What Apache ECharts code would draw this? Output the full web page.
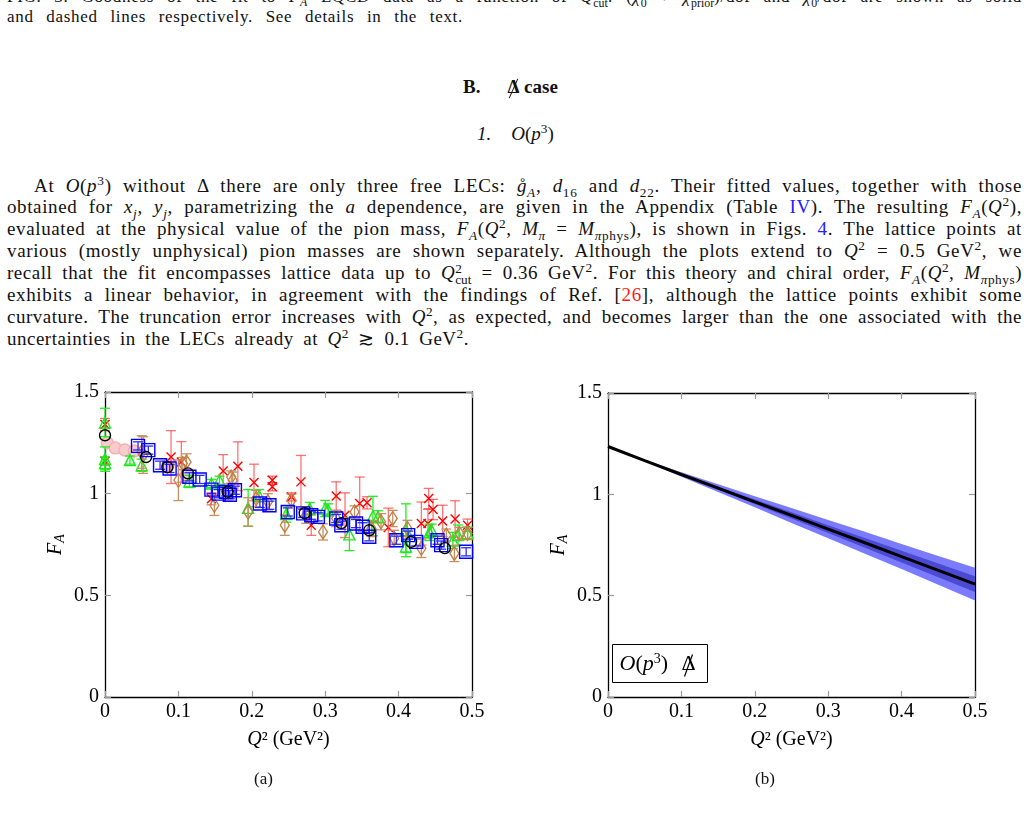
<!DOCTYPE html>
<html>
<head>
<meta charset="utf-8">
<script src="https://cdn.jsdelivr.net/npm/echarts/dist/echarts.min.js"></script>
<style>
  html, body { margin: 0; padding: 0; background: #fff; }
  #page { position: relative; width: 1029px; height: 817px; overflow: hidden; font-family: "Liberation Serif", "DejaVu Serif", serif; color: #111; font-variant-ligatures: none; }
  .ln { position: absolute; white-space: nowrap; font-size: 19px; line-height: 22px; height: 22px; }
  .cap { font-size: 17px; }
  sup, sub { font-size: 0.7em; line-height: 0; }
  .b { color: #2020ff; }
  .r { color: #ff1a1a; }
  .ss { display: inline-block; font-size: 0.7em; line-height: 11px; vertical-align: -5px; letter-spacing: 0; }
  .ss > span { display: block; }
  .nd { position: relative; display: inline-block; }
  .nd::after { content: ''; position: absolute; left: 48%; top: 8%; height: 95%; border-left: 1.3px solid #111; transform: rotate(24deg); }
  #chart { position: absolute; left: 0; top: 370px; width: 1029px; height: 447px; }
</style>
</head>
<body>
<div id="page">
  <!-- caption of the previous figure, cut at the top of the page -->
  <div class="ln cap" data-w="1015" style="left:7px;top:-14px">FIG. 3. Goodness of the fit to <i>F<sub>A</sub></i> LQCD data as a function of <i>Q</i><span class="ss"><span>2</span><span>cut</span></span>: (<i>χ</i><span class="ss"><span>2</span><span>0</span></span> + <i>χ</i><span class="ss"><span>2</span><span>prior</span></span>)/dof and <i>χ</i><span class="ss"><span>2</span><span>0</span></span>/dof are shown as solid</div>
  <div class="ln cap" data-w="456" style="left:7px;top:6px">and dashed lines respectively. See details in the text.</div>

  <div class="ln" style="left:463px;top:76px;font-weight:bold">B.<span style="display:inline-block;width:27px"></span><span class="nd">Δ</span> case</div>
  <div class="ln" style="left:477px;top:123px"><i>1.</i><span style="display:inline-block;width:20px"></span><i>O</i>(<i>p</i><sup>3</sup>)</div>

  <div class="ln" data-w="988" style="left:34px;top:175px">At <i>O</i>(<i>p</i><sup>3</sup>) without Δ there are only three free LECs: <i>g̊</i><sub><i>A</i></sub>, <i>d</i><sub>16</sub> and <i>d</i><sub>22</sub>. Their fitted values, together with those</div>
  <div class="ln" data-w="1015" style="left:7px;top:196px">obtained for <i>x<sub>j</sub></i>, <i>y<sub>j</sub></i>, parametrizing the <i>a</i> dependence, are given in the Appendix (Table <span class="b">IV</span>). The resulting <i>F<sub>A</sub></i>(<i>Q</i><sup>2</sup>),</div>
  <div class="ln" data-w="1015" style="left:7px;top:218px">evaluated at the physical value of the pion mass, <i>F<sub>A</sub></i>(<i>Q</i><sup>2</sup>, <i>M<sub>π</sub></i> = <i>M</i><sub><i>π</i>phys</sub>), is shown in Figs. <span class="b">4</span>. The lattice points at</div>
  <div class="ln" data-w="1015" style="left:7px;top:240px">various (mostly unphysical) pion masses are shown separately. Although the plots extend to <i>Q</i><sup>2</sup> = 0.5 GeV<sup>2</sup>, we</div>
  <div class="ln" data-w="1015" style="left:7px;top:262px">recall that the fit encompasses lattice data up to <i>Q</i><span class="ss"><span>2</span><span>cut</span></span> = 0.36 GeV<sup>2</sup>. For this theory and chiral order, <i>F<sub>A</sub></i>(<i>Q</i><sup>2</sup>, <i>M</i><sub><i>π</i>phys</sub>)</div>
  <div class="ln" data-w="1015" style="left:7px;top:284px">exhibits a linear behavior, in agreement with the findings of Ref. [<span class="r">26</span>], although the lattice points exhibit some</div>
  <div class="ln" data-w="1015" style="left:7px;top:306px">curvature. The truncation error increases with <i>Q</i><sup>2</sup>, as expected, and becomes larger than the one associated with the</div>
  <div class="ln" data-w="462" style="left:7px;top:328px">uncertainties in the LECs already at <i>Q</i><sup>2</sup> ≳ 0.1 GeV<sup>2</sup>.</div>

  <div id="chart"></div>

  <div class="ln cap" style="left:254px;top:768px">(a)</div>
  <div class="ln cap" style="left:755px;top:768px">(b)</div>
</div>

<script>
// lattice points: [Q2, FA, error]
const redPts = [
  [0, 1.34, 0.03], [0, 1.16, 0.02], [0.09, 1.18, 0.13], [0.104, 1.156, 0.10],
  [0.145, 0.975, 0.03], [0.161, 1.112, 0.08], [0.181, 1.135, 0.12], [0.203, 1.055, 0.09],
  [0.228, 1.066, 0.02], [0.228, 1.034, 0.02], [0.254, 0.984, 0.02], [0.267, 1.058, 0.13],
  [0.281, 0.845, 0.05], [0.315, 0.988, 0.07], [0.327, 0.894, 0.11], [0.347, 0.952, 0.13],
  [0.357, 0.955, 0.03], [0.386, 0.834, 0.095], [0.431, 0.853, 0.106], [0.441, 0.976, 0.05],
  [0.44, 0.853, 0.07], [0.447, 0.922, 0.05], [0.46, 0.866, 0.077], [0.477, 0.875, 0.09],
  [0.494, 0.845, 0.03]
]
const greenPts = [
  [0, 1.35, 0.07], [0, 1.17, 0.06], [0, 1.15, 0.03], [0.034, 1.165, 0.02],
  [0.05, 1.14, 0.03], [0.115, 1.06, 0.03], [0.145, 1.05, 0.02], [0.156, 1.066, 0.02],
  [0.195, 0.93, 0.09], [0.21, 0.99, 0.03], [0.247, 0.9, 0.04], [0.279, 0.927, 0.03],
  [0.3, 0.927, 0.04], [0.304, 0.92, 0.03], [0.333, 0.8, 0.08], [0.365, 0.89, 0.097],
  [0.372, 0.886, 0.03], [0.41, 0.82, 0.13], [0.41, 0.74, 0.03], [0.442, 0.81, 0.04],
  [0.445, 0.82, 0.03], [0.474, 0.77, 0.04], [0.481, 0.796, 0.05], [0.494, 0.806, 0.03]
]
const brownPts = [
  [0.05, 1.205, 0.08], [0.052, 1.19, 0.09], [0.1, 1.066, 0.1], [0.106, 1.148, 0.03],
  [0.111, 1.156, 0.04], [0.149, 0.943, 0.05], [0.168, 1.009, 0.04], [0.172, 1.082, 0.03],
  [0.174, 1.066, 0.04], [0.195, 0.91, 0.07], [0.206, 0.976, 0.04], [0.222, 0.96, 0.04],
  [0.245, 0.845, 0.05], [0.254, 0.968, 0.03], [0.274, 0.894, 0.04], [0.297, 0.812, 0.04],
  [0.315, 0.878, 0.04], [0.34, 0.91, 0.03], [0.363, 0.829, 0.04], [0.376, 0.862, 0.04],
  [0.392, 0.878, 0.04], [0.394, 0.78, 0.04], [0.412, 0.829, 0.04], [0.431, 0.731, 0.045],
  [0.465, 0.796, 0.03], [0.476, 0.706, 0.04], [0.483, 0.804, 0.03], [0.494, 0.804, 0.03]
]
const bluePts = [
  [0.045, 1.235, 0.02], [0.059, 1.214, 0.02], [0.075, 1.14, 0.02], [0.088, 1.124, 0.02],
  [0.115, 1.083, 0.02], [0.129, 1.07, 0.02], [0.145, 1.02, 0.02], [0.155, 1.0, 0.02],
  [0.165, 1.009, 0.02], [0.17, 0.995, 0.02], [0.177, 1.017, 0.02], [0.211, 0.952, 0.02],
  [0.224, 0.943, 0.02], [0.249, 0.91, 0.02], [0.27, 0.903, 0.02], [0.281, 0.894, 0.02],
  [0.29, 0.886, 0.02], [0.315, 0.878, 0.02], [0.322, 0.845, 0.02], [0.342, 0.853, 0.02],
  [0.351, 0.837, 0.02], [0.36, 0.788, 0.02], [0.397, 0.771, 0.02], [0.413, 0.796, 0.02],
  [0.424, 0.763, 0.02], [0.453, 0.771, 0.02], [0.458, 0.747, 0.02], [0.492, 0.714, 0.02]
]
const blackPts = [
  [0, 1.287], [0.056, 1.18], [0.085, 1.13], [0.113, 1.1], [0.167, 1.01],
  [0.272, 0.904], [0.322, 0.855], [0.36, 0.82], [0.417, 0.763], [0.463, 0.732]
]
const pinkPts = [
  [0.003, 1.25], [0.014, 1.225], [0.027, 1.215], [0.04, 1.21], [0.086, 1.14], [0.111, 1.09]
]

// O(p^3) result at the physical pion mass
const fitQ2 = [0, 0.05, 0.1, 0.15, 0.2, 0.25, 0.3, 0.35, 0.4, 0.45, 0.5]
const fitMid = [1.236, 1.166, 1.098, 1.031, 0.963, 0.896, 0.828, 0.761, 0.693, 0.625, 0.557]
const fitOuterHi = [1.236, 1.17, 1.109, 1.05, 0.99, 0.932, 0.873, 0.815, 0.755, 0.696, 0.638]
const fitOuterLo = [1.236, 1.163, 1.087, 1.012, 0.936, 0.859, 0.783, 0.707, 0.631, 0.554, 0.476]
const fitInnerHi = [1.236, 1.167, 1.102, 1.038, 0.974, 0.911, 0.847, 0.785, 0.722, 0.659, 0.596]
const fitInnerLo = [1.236, 1.165, 1.094, 1.024, 0.952, 0.881, 0.809, 0.737, 0.664, 0.591, 0.518]

const xTicks = [0, 0.1, 0.2, 0.3, 0.4, 0.5]
const yTicks = [0, 0.5, 1, 1.5]

// spread letters a little, then stretch word spacing so each line fills its width
document.querySelectorAll('.ln[data-w]').forEach(el => {
  const target = +el.dataset.w
  const chars = el.textContent.length
  const spaces = (el.textContent.match(/ /g) || []).length
  let w = el.getBoundingClientRect().width
  const ls = Math.max(-0.3, Math.min(0.7, (target - w) * 0.4 / chars))
  el.style.letterSpacing = ls + 'px'
  w = el.getBoundingClientRect().width
  if (spaces) el.style.wordSpacing = ((target - w) / spaces) + 'px'
})

const FONT = '"Liberation Serif", "DejaVu Serif", serif'
const chart = echarts.init(document.getElementById('chart'))

const tickStyle = { show: true, inside: true, length: 6, lineStyle: { color: '#9a9a9a', width: 1.2 } }
const lineStyle = { show: true, onZero: false, lineStyle: { color: '#000', width: 1.3 } }

function xAxes(grid) {
  const base = {
    gridIndex: grid, type: 'value', min: xTicks[0], max: xTicks[xTicks.length - 1], interval: 0.1,
    axisLine: lineStyle, axisTick: tickStyle, splitLine: { show: false }
  }
  return [
    Object.assign({}, base, {
      position: 'bottom',
      axisLabel: { color: '#000', fontFamily: FONT, fontSize: 20, margin: 5, formatter: v => String(+v.toFixed(1)) },
      name: '{i|Q}² (GeV²)', nameLocation: 'middle', nameGap: 33,
      nameTextStyle: { color: '#000', fontFamily: FONT, fontSize: 20, rich: { i: { fontFamily: FONT, fontSize: 20, fontStyle: 'italic' } } }
    }),
    Object.assign({}, base, { position: 'top', axisLabel: { show: false } })
  ]
}
function yAxes(grid) {
  const base = {
    gridIndex: grid, type: 'value', min: yTicks[0], max: yTicks[yTicks.length - 1], interval: 0.5,
    axisLine: lineStyle, axisTick: tickStyle, splitLine: { show: false }
  }
  return [
    Object.assign({}, base, {
      position: 'left',
      axisLabel: { color: '#000', fontFamily: FONT, fontSize: 20, margin: 6 },
      name: '{i|F}{s|A}', nameLocation: 'middle', nameGap: 38, nameRotate: 90,
      nameTextStyle: { color: '#000', fontFamily: FONT, fontSize: 20, rich: {
        i: { fontFamily: FONT, fontSize: 20, fontStyle: 'italic' },
        s: { fontFamily: FONT, fontSize: 14, fontStyle: 'italic', padding: [9, 0, 0, 0] }
      } }
    }),
    Object.assign({}, base, { position: 'right', axisLabel: { show: false } })
  ]
}

function errBars(data, color, z) {
  return {
    type: 'custom', xAxisIndex: 0, yAxisIndex: 0, data, clip: false, silent: true, z,
    renderItem: (params, api) => {
      const x = api.value(0), y = api.value(1), e = api.value(2)
      const hi = api.coord([x, y + e]), lo = api.coord([x, y - e])
      const st = { stroke: color, lineWidth: 1.3 }
      return {
        type: 'group', children: [
          { type: 'line', shape: { x1: hi[0], y1: hi[1], x2: lo[0], y2: lo[1] }, style: st },
          { type: 'line', shape: { x1: hi[0] - 5, y1: hi[1], x2: hi[0] + 5, y2: hi[1] }, style: st },
          { type: 'line', shape: { x1: lo[0] - 5, y1: lo[1], x2: lo[0] + 5, y2: lo[1] }, style: st }
        ]
      }
    }
  }
}
function marks(data, symbol, size, color, fill, z) {
  return {
    type: 'scatter', xAxisIndex: 0, yAxisIndex: 0, data, symbol, symbolSize: size, clip: false, silent: true, z,
    itemStyle: { color: fill, borderColor: color, borderWidth: 1.4, opacity: 1 }
  }
}
function band(hi, lo, color, z) {
  return {
    type: 'custom', xAxisIndex: 2, yAxisIndex: 2, data: [0], silent: true, z,
    renderItem: (params, api) => {
      const pts = fitQ2.map((x, i) => api.coord([x, hi[i]]))
        .concat(fitQ2.map((x, i) => api.coord([x, lo[i]])).reverse())
      return { type: 'polygon', shape: { points: pts }, style: { fill: color } }
    }
  }
}

const none = 'rgba(0,0,0,0)'
chart.setOption({
  animation: false,
  grid: [
    { left: 105, top: 22, width: 367, height: 305 },
    { left: 608, top: 23, width: 367, height: 304 }
  ],
  xAxis: xAxes(0).concat(xAxes(1)),
  yAxis: yAxes(0).concat(yAxes(1)),
  series: [
    marks(pinkPts, 'circle', 12, '#f3b0b0', '#f8cccc', 2),
    errBars(redPts, 'rgba(255,40,40,0.65)', 3),
    marks(redPts, 'path://M0,0L10,10M10,0L0,10', 9, '#ff0000', none, 4),
    errBars(greenPts, '#22ee22', 5),
    marks(greenPts, 'triangle', 11, '#1ee61e', none, 6),
    errBars(brownPts, '#c89060', 7),
    marks(brownPts, 'diamond', [9, 14], '#c08048', none, 8),
    errBars(bluePts, '#2b2bff', 9),
    marks(bluePts, 'rect', 13, '#0000ff', none, 10),
    marks(blackPts, 'circle', 11, '#000', none, 11),
    band(fitOuterHi, fitOuterLo, '#7b7bff', 2),
    band(fitInnerHi, fitInnerLo, '#4a4ad2', 3),
    {
      type: 'line', xAxisIndex: 2, yAxisIndex: 2, silent: true, z: 4,
      data: fitQ2.map((x, i) => [x, fitMid[i]]), showSymbol: false,
      lineStyle: { color: '#000', width: 3 }
    }
  ],
  graphic: [
    {
      type: 'group', left: 612, top: 274, children: [
        { type: 'rect', shape: { x: 0, y: 0, width: 95, height: 38 }, style: { fill: '#fff', stroke: '#000', lineWidth: 1 } },
        {
          type: 'text', x: 7, y: 20, style: {
            text: '{i|O}({i|p}{s|3})', verticalAlign: 'middle',
            font: '22px ' + FONT, fill: '#000',
            rich: {
              i: { fontFamily: FONT, fontSize: 22, fontStyle: 'italic' },
              s: { fontFamily: FONT, fontSize: 14, padding: [0, 0, 10, 0] }
            }
          }
        },
        { type: 'text', x: 76, y: 20, style: { text: 'Δ', align: 'center', verticalAlign: 'middle', font: '22px ' + FONT, fill: '#000' } },
        { type: 'line', shape: { x1: 72, y1: 32, x2: 80, y2: 10 }, style: { stroke: '#000', lineWidth: 1.2 } }
      ]
    }
  ]
})
</script>
</body>
</html>
